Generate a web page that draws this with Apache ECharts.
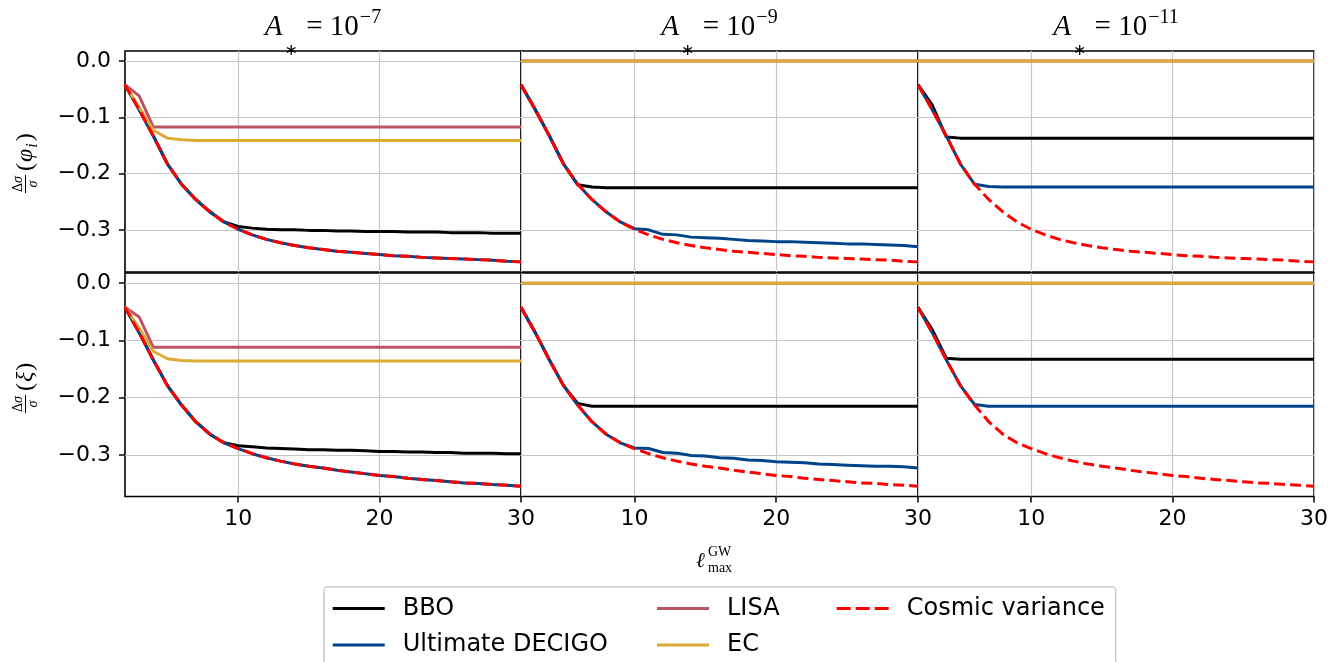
<!DOCTYPE html>
<html>
<head>
<meta charset="utf-8">
<script src="https://cdn.jsdelivr.net/npm/echarts@6/dist/echarts.min.js"></script>
<style>
html,body{margin:0;padding:0;background:#fff;}
#chart{width:1344px;height:662px;}
</style>
</head>
<body>
<div id="chart"></div>
<script>
// ---------- data (x = l_max^GW from 2 to 30) ----------
const ell = [2,3,4,5,6,7,8,9,10,11,12,13,14,15,16,17,18,19,20,21,22,23,24,25,26,27,28,29,30];
const xTicks = [10, 20, 30];
const yTicks = [0, -0.1, -0.2, -0.3];
const exponents = ['−7', '−9', '−11'];
const seriesNames = ['BBO', 'Ultimate DECIGO', 'LISA', 'EC', 'Cosmic variance'];

// top row: Δσ/σ (φ_i)
const cvPhi = [-0.042,-0.086,-0.133,-0.183,-0.219,-0.246,-0.268,-0.286,-0.299,
  -0.309,-0.317,-0.323,-0.328,-0.332,-0.335,-0.338,-0.340,-0.342,-0.344,
  -0.346,-0.347,-0.349,-0.350,-0.351,-0.352,-0.353,-0.354,-0.356,-0.357];
const bboPhi7 = [-0.042,-0.086,-0.133,-0.183,-0.219,-0.246,-0.268,-0.286,
  -0.294,-0.297,-0.299,-0.300,-0.300,-0.301,-0.301,-0.302,-0.302,-0.303,-0.303,
  -0.303,-0.304,-0.304,-0.304,-0.305,-0.305,-0.305,-0.306,-0.306,-0.306];
const udPhi7 = [-0.042,-0.086,-0.133,-0.183,-0.219,-0.246,-0.268,-0.286,-0.299,
  -0.309,-0.317,-0.323,-0.328,-0.332,-0.335,-0.338,-0.340,-0.342,-0.344,
  -0.346,-0.347,-0.349,-0.350,-0.351,-0.352,-0.353,-0.354,-0.356,-0.357];
const lisaPhi7 = [-0.042,-0.062,-0.117,-0.117,-0.117,-0.117,-0.117,-0.117,-0.117,
  -0.117,-0.117,-0.117,-0.117,-0.117,-0.117,-0.117,-0.117,-0.117,-0.117,
  -0.117,-0.117,-0.117,-0.117,-0.117,-0.117,-0.117,-0.117,-0.117,-0.117];
const ecPhi7 = [-0.042,-0.082,-0.123,-0.137,-0.140,-0.141,-0.141,-0.141,-0.141,
  -0.141,-0.141,-0.141,-0.141,-0.141,-0.141,-0.141,-0.141,-0.141,-0.141,
  -0.141,-0.141,-0.141,-0.141,-0.141,-0.141,-0.141,-0.141,-0.141,-0.141];
const bboPhi9 = [-0.042,-0.086,-0.133,-0.183,-0.220,-0.224,-0.225,-0.225,-0.225,
  -0.225,-0.225,-0.225,-0.225,-0.225,-0.225,-0.225,-0.225,-0.225,-0.225,
  -0.225,-0.225,-0.225,-0.225,-0.225,-0.225,-0.225,-0.225,-0.225,-0.225];
const udPhi9 = [-0.042,-0.086,-0.133,-0.183,-0.219,-0.246,-0.268,-0.286,-0.298,
  -0.300,-0.308,-0.309,-0.313,-0.314,-0.315,-0.317,-0.319,-0.320,-0.321,
  -0.321,-0.322,-0.323,-0.324,-0.325,-0.325,-0.326,-0.327,-0.328,-0.330];
const bboPhi11 = [-0.042,-0.078,-0.135,-0.137,-0.137,-0.137,-0.137,-0.137,-0.137,
  -0.137,-0.137,-0.137,-0.137,-0.137,-0.137,-0.137,-0.137,-0.137,-0.137,
  -0.137,-0.137,-0.137,-0.137,-0.137,-0.137,-0.137,-0.137,-0.137,-0.137];
const udPhi11 = [-0.042,-0.086,-0.133,-0.183,-0.219,-0.223,-0.224,-0.224,-0.224,
  -0.224,-0.224,-0.224,-0.224,-0.224,-0.224,-0.224,-0.224,-0.224,-0.224,
  -0.224,-0.224,-0.224,-0.224,-0.224,-0.224,-0.224,-0.224,-0.224,-0.224];

// bottom row: Δσ/σ (ξ)
const cvXi = [-0.042,-0.086,-0.134,-0.179,-0.213,-0.242,-0.264,-0.279,-0.289,
  -0.298,-0.305,-0.311,-0.316,-0.320,-0.323,-0.327,-0.330,-0.333,-0.336,
  -0.338,-0.341,-0.343,-0.345,-0.347,-0.349,-0.350,-0.352,-0.353,-0.355];
const bboXi7 = [-0.042,-0.086,-0.134,-0.179,-0.213,-0.242,-0.264,-0.279,
  -0.284,-0.286,-0.288,-0.289,-0.290,-0.291,-0.291,-0.292,-0.292,-0.293,-0.294,
  -0.294,-0.295,-0.295,-0.296,-0.296,-0.297,-0.297,-0.297,-0.298,-0.298];
const udXi7 = [-0.042,-0.086,-0.134,-0.179,-0.213,-0.242,-0.264,-0.279,-0.289,
  -0.298,-0.305,-0.311,-0.316,-0.320,-0.323,-0.327,-0.330,-0.333,-0.336,
  -0.338,-0.341,-0.343,-0.345,-0.347,-0.349,-0.350,-0.352,-0.353,-0.355];
const lisaXi7 = [-0.042,-0.059,-0.112,-0.112,-0.112,-0.112,-0.112,-0.112,-0.112,
  -0.112,-0.112,-0.112,-0.112,-0.112,-0.112,-0.112,-0.112,-0.112,-0.112,
  -0.112,-0.112,-0.112,-0.112,-0.112,-0.112,-0.112,-0.112,-0.112,-0.112];
const ecXi7 = [-0.042,-0.078,-0.119,-0.132,-0.135,-0.136,-0.136,-0.136,-0.136,
  -0.136,-0.136,-0.136,-0.136,-0.136,-0.136,-0.136,-0.136,-0.136,-0.136,
  -0.136,-0.136,-0.136,-0.136,-0.136,-0.136,-0.136,-0.136,-0.136,-0.136];
const bboXi9 = [-0.042,-0.086,-0.134,-0.179,-0.210,-0.215,-0.215,-0.215,-0.215,
  -0.215,-0.215,-0.215,-0.215,-0.215,-0.215,-0.215,-0.215,-0.215,-0.215,
  -0.215,-0.215,-0.215,-0.215,-0.215,-0.215,-0.215,-0.215,-0.215,-0.215];
const udXi9 = [-0.042,-0.086,-0.134,-0.179,-0.213,-0.242,-0.264,-0.279,-0.288,
  -0.289,-0.296,-0.297,-0.301,-0.302,-0.305,-0.306,-0.309,-0.310,-0.312,
  -0.313,-0.314,-0.316,-0.317,-0.318,-0.319,-0.320,-0.320,-0.321,-0.323];
const bboXi11 = [-0.042,-0.081,-0.131,-0.133,-0.133,-0.133,-0.133,-0.133,-0.133,
  -0.133,-0.133,-0.133,-0.133,-0.133,-0.133,-0.133,-0.133,-0.133,-0.133,
  -0.133,-0.133,-0.133,-0.133,-0.133,-0.133,-0.133,-0.133,-0.133,-0.133];
const udXi11 = [-0.042,-0.086,-0.134,-0.179,-0.212,-0.215,-0.215,-0.215,-0.215,
  -0.215,-0.215,-0.215,-0.215,-0.215,-0.215,-0.215,-0.215,-0.215,-0.215,
  -0.215,-0.215,-0.215,-0.215,-0.215,-0.215,-0.215,-0.215,-0.215,-0.215];

// LISA and EC give no improvement at small amplitudes (flat at zero)
const flatZero = [0,0,0,0,0,0,0,0,0,0,0,0,0,0,0,0,0,0,0,0,0,0,0,0,0,0,0,0,0];

// panel -> series arrays, in order of seriesNames
const panelData = [
  [bboPhi7, udPhi7, lisaPhi7, ecPhi7, cvPhi],
  [bboPhi9, udPhi9, flatZero, flatZero, cvPhi],
  [bboPhi11, udPhi11, flatZero, flatZero, cvPhi],
  [bboXi7, udXi7, lisaXi7, ecXi7, cvXi],
  [bboXi9, udXi9, flatZero, flatZero, cvXi],
  [bboXi11, udXi11, flatZero, flatZero, cvXi]
];

// ---------- style / layout ----------
const colors = {
  'BBO': '#000000',
  'Ultimate DECIGO': '#004488',
  'LISA': '#BB5566',
  'EC': '#DDAA33',
  'Cosmic variance': '#FF0000'
};
const colLeft = [125, 521, 918];
const colWidth = [396, 397, 396];
const rowTop = [51, 273];
const rowHeight = [221, 223.5];
const rowRange = [[-0.375, 0.0179], [-0.3728, 0.0178]];
const gridLineColor = '#c6c6c6';
const tickFont = 'DejaVu Sans';

function yFmt(v) {
  const hit = yTicks.some(t => Math.abs(t - v) < 1e-9);
  if (!hit) return '';
  if (Math.abs(v) < 1e-9) return '0.0';
  return '−' + Math.abs(v).toFixed(1);
}
function xFmt(v) {
  return xTicks.some(t => Math.abs(t - v) < 1e-9) ? String(v) : '';
}

const grids = [], xAxes = [], yAxes = [], series = [];
for (let p = 0; p < 6; p++) {
  const r = Math.floor(p / 3), c = p % 3;
  grids.push({
    left: colLeft[c], top: rowTop[r], width: colWidth[c], height: rowHeight[r],
    show: true, borderColor: '#000', borderWidth: 1.6, backgroundColor: 'transparent'
  });
  xAxes.push({
    gridIndex: p, type: 'value', min: 2, max: 30, splitNumber: 3, position: 'bottom',
    axisLine: {show: false, onZero: false},
    axisTick: {show: r === 1, length: 6, customValues: xTicks, lineStyle: {color: '#000', width: 1.5}},
    axisLabel: {show: r === 1, customValues: xTicks, formatter: xFmt, fontSize: 22,
      fontFamily: tickFont, color: '#000', margin: 12},
    splitLine: {show: true, lineStyle: {color: gridLineColor, width: 1.2}}
  });
  yAxes.push({
    gridIndex: p, type: 'value', min: rowRange[r][0], max: rowRange[r][1], splitNumber: 4, position: 'left',
    axisLine: {show: false, onZero: false},
    axisTick: {show: c === 0, length: 6, customValues: yTicks, lineStyle: {color: '#000', width: 1.5}},
    axisLabel: {show: c === 0, customValues: yTicks, formatter: yFmt, fontSize: 22,
      fontFamily: tickFont, color: '#000', margin: 14},
    splitLine: {show: true, lineStyle: {color: gridLineColor, width: 1.2}}
  });
  seriesNames.forEach((name, k) => {
    const vals = panelData[p][k];
    series.push({
      name: name, type: 'line', xAxisIndex: p, yAxisIndex: p,
      data: ell.map((x, i) => [x, vals[i]]),
      symbol: 'none', smooth: false, silent: true,
      lineStyle: {color: colors[name], width: 3,
        type: name === 'Cosmic variance' ? [11, 5] : 'solid'},
      itemStyle: {color: colors[name]},
      z: 2 + k
    });
  });
}

// ---------- text: titles, axis labels ----------
const serif = 'Liberation Serif';
const titleRich = {
  a: {fontFamily: serif, fontStyle: 'italic', fontSize: 29, verticalAlign: 'top', padding: [5, 0, 0, 0], color: '#000'},
  s: {fontFamily: 'DejaVu Sans', fontSize: 16, verticalAlign: 'top', padding: [35, 1, 0, 2], color: '#000'},
  e: {fontFamily: serif, fontSize: 29, verticalAlign: 'top', padding: [5, 0, 0, 0], color: '#000'},
  p: {fontFamily: serif, fontSize: 20, verticalAlign: 'top', padding: [0, 0, 0, 1], color: '#000'}
};
const graphics = [];
for (let c = 0; c < 3; c++) {
  graphics.push({
    type: 'text', x: colLeft[c] + colWidth[c] / 2, y: 8, silent: true,
    style: {text: '{a|A}{s|∗}{e| = 10}{p|' + exponents[c] + '}', rich: titleRich,
      align: 'center', verticalAlign: 'top'}
  });
}
function yLabel(cy, inner) {
  return {
    type: 'group', x: 25.5, y: cy, rotation: Math.PI / 2, silent: true,
    children: [
      {type: 'text', x: 0, y: -7, style: {text: '{u|Δ}{i|σ}', align: 'center', verticalAlign: 'middle',
        rich: {u: {fontFamily: serif, fontSize: 14, color: '#000'}, i: {fontFamily: serif, fontStyle: 'italic', fontSize: 14, color: '#000'}}}},
      {type: 'line', shape: {x1: -9, y1: 0, x2: 9, y2: 0}, style: {stroke: '#000', lineWidth: 1}},
      {type: 'text', x: 0, y: 8, style: {text: 'σ', font: 'italic 14px "Liberation Serif"', fill: '#000', align: 'center', verticalAlign: 'middle'}},
      {type: 'text', x: 12, y: 0, style: {text: inner, align: 'left', verticalAlign: 'middle',
        rich: {n: {fontFamily: serif, fontSize: 24, color: '#000', padding: [0, 1, 0, 1]},
               i: {fontFamily: serif, fontStyle: 'italic', fontSize: 24, color: '#000'},
               b: {fontFamily: serif, fontStyle: 'italic', fontSize: 16, color: '#000', verticalAlign: 'top', padding: [14, 1, 0, 1]}}}}
    ]
  };
}
graphics.push(yLabel(184, '{n|(}{i|φ}{b|i}{n|)}'));
graphics.push(yLabel(404, '{n|(}{i|ξ}{n|)}'));
// x-axis label  l^GW_max
graphics.push({type: 'text', x: 696, y: 562, silent: true,
  style: {text: 'ℓ', font: 'italic 21px "DejaVu Serif"', fill: '#000', align: 'left', verticalAlign: 'middle'}});
graphics.push({type: 'text', x: 708, y: 552.5, silent: true,
  style: {text: 'GW', font: '14px "Liberation Serif"', fill: '#000', align: 'left', verticalAlign: 'middle'}});
graphics.push({type: 'text', x: 708, y: 568.5, silent: true,
  style: {text: 'max', font: '14px "Liberation Serif"', fill: '#000', align: 'left', verticalAlign: 'middle'}});
// legend frame
graphics.push({type: 'rect', z: 1, silent: true,
  shape: {x: 324, y: 586.7, width: 791.7, height: 110, r: 4},
  style: {fill: 'rgba(255,255,255,0.8)', stroke: '#cccccc', lineWidth: 1.5}});

const legendCommon = {
  orient: 'vertical', padding: 0, itemWidth: 52, itemHeight: 3, itemGap: 12.6,
  selectedMode: false, z: 5,
  itemStyle: {borderWidth: 0},
  textStyle: {fontSize: 24, fontFamily: 'DejaVu Sans', color: '#000', padding: [0, 0, 0, 13]}
};
const dashIcon = 'path://M0,0h14v3h-14zM19,0h14v3h-14zM38,0h14v3h-14z';

const chart = echarts.init(document.getElementById('chart'), null, {renderer: 'canvas'});
chart.setOption({
  animation: false,
  backgroundColor: '#ffffff',
  grid: grids,
  xAxis: xAxes,
  yAxis: yAxes,
  series: series,
  legend: [
    Object.assign({}, legendCommon, {left: 332.7, top: 596.5,
      data: [{name: 'BBO', icon: 'rect'}, {name: 'Ultimate DECIGO', icon: 'rect'}]}),
    Object.assign({}, legendCommon, {left: 657, top: 596.5,
      data: [{name: 'LISA', icon: 'rect'}, {name: 'EC', icon: 'rect'}]}),
    Object.assign({}, legendCommon, {left: 836.7, top: 596.5,
      data: [{name: 'Cosmic variance', icon: dashIcon}]})
  ],
  graphic: graphics
});
</script>
</body>
</html>
